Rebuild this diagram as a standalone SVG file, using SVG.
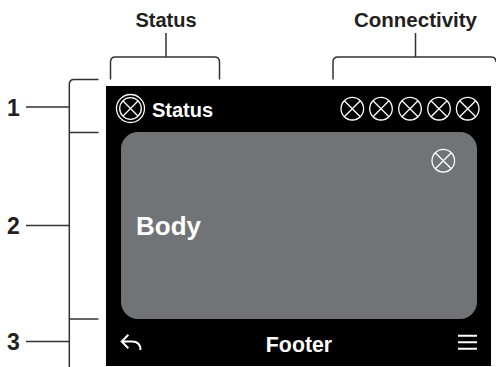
<svg xmlns="http://www.w3.org/2000/svg" width="496" height="367" viewBox="0 0 496 367">
<style>
.ln{fill:none;stroke:#333;stroke-width:1.5}
.ic{fill:none;stroke:#fff;stroke-width:1.3}
.th{fill:none;stroke:#fff;stroke-width:2}
.lb{font-family:"Liberation Sans",Arial,sans-serif;font-weight:700;fill:#231f20}
.wt{font-family:"Liberation Sans",Arial,sans-serif;font-weight:700;fill:#fff}
</style>
<defs>
<g id="x"><circle r="11.300"/><path d="M-8-8L8 8M-8 8L8-8"/></g>
</defs>
<rect width="496" height="367" fill="#fff"/>
<g id="screen">
<rect x="106" y="86" width="385" height="280" fill="#000"/>
<rect x="121" y="132" width="356" height="187" rx="17" fill="#717476"/>
</g>
<g id="connectors" class="ln">
<path d="M110.500 79.500V62Q110.500 57 115.500 57H214.500Q219.500 57 219.500 62V79.500M166 33V57"/>
<path d="M333 79.500V62Q333 57 338 57H491Q496 57 496 62M415.500 33V57"/>
<path d="M98.500 79.500H74Q69.300 79.500 69.300 84.500V367M69.300 132.500H98.500M69.300 319H98.500M26 107H69.300M26 225.500H69.300M26 341.500H69.300"/>
</g>
<g id="label-status"><text class="lb" x="166" y="26.500" font-size="20" text-anchor="middle">Status</text></g>
<g id="label-connectivity"><text class="lb" x="415.500" y="26.500" font-size="20.500" text-anchor="middle">Connectivity</text></g>
<g id="label-1"><text class="lb" x="13.500" y="115.500" font-size="23" text-anchor="middle">1</text></g>
<g id="label-2"><text class="lb" x="13.500" y="233.500" font-size="23" text-anchor="middle">2</text></g>
<g id="label-3"><text class="lb" x="13.500" y="349.500" font-size="23" text-anchor="middle">3</text></g>
<g id="status-bar">
<g class="ic"><circle cx="130.500" cy="108.500" r="10.800"/><path d="M122.800 100.800L138.200 116.200M122.800 116.200L138.200 100.800"/><circle cx="130.500" cy="108.500" r="14"/></g>
<text class="wt" x="152" y="117" font-size="20">Status</text>
</g>
<g id="connectivity-icons" class="ic">
<use href="#x" x="352.300" y="108.700"/><use href="#x" x="381" y="108.700"/><use href="#x" x="410" y="108.700"/><use href="#x" x="439" y="108.700"/><use href="#x" x="467.700" y="108.700"/>
</g>
<g id="body">
<use href="#x" class="ic" x="443.300" y="160.700"/>
<text class="wt" x="136" y="235" font-size="26">Body</text>
</g>
<g id="footer">
<path class="th" d="M128.300 334.700L121.700 341.500L128.300 348.300M121.700 341.500H132Q140.500 341.500 140.500 350"/>
<text class="wt" x="299" y="352" font-size="21.300" text-anchor="middle">Footer</text>
<path class="th" d="M458 335.700H477M458 342.300H477M458 348.700H477"/>
</g>
</svg>
